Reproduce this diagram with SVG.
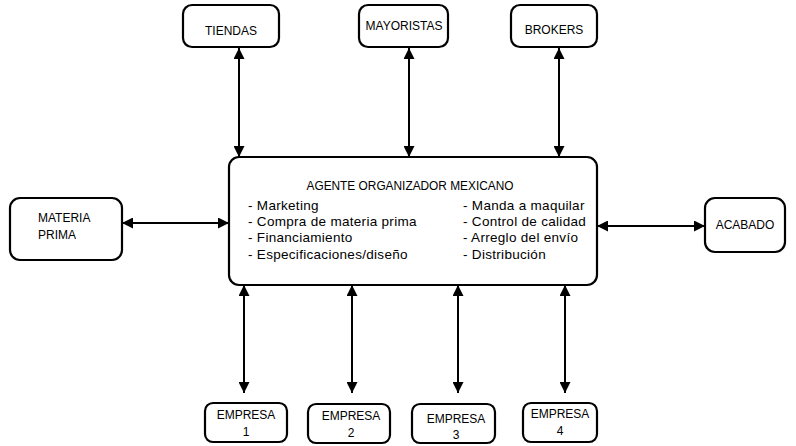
<svg xmlns="http://www.w3.org/2000/svg" width="796" height="446" viewBox="0 0 796 446">
<style>
.box{fill:#fff;stroke:#000;stroke-width:2.2}
.t{font-family:"Liberation Sans",Arial,sans-serif;font-size:12px;fill:#000}
.l{font-size:13.5px;letter-spacing:0.3px}
.c{text-anchor:middle}
.ln{stroke:#000;stroke-width:2;fill:none;marker-start:url(#ah);marker-end:url(#ah)}
</style>
<defs>
<marker id="ah" viewBox="0 0 10 10" refX="10" refY="5" markerWidth="6" markerHeight="5.5" orient="auto-start-reverse" markerUnits="strokeWidth">
<path d="M0,0 L10,5 L0,10 z" fill="#000"/>
</marker>
</defs>
<rect width="796" height="446" fill="#fff"/>
<g id="connectors">
<line class="ln" x1="239" y1="48" x2="239" y2="157"/>
<line class="ln" x1="409" y1="48" x2="409" y2="157"/>
<line class="ln" x1="559" y1="48" x2="559" y2="157"/>
<line class="ln" x1="122" y1="223" x2="229" y2="223"/>
<line class="ln" x1="597" y1="226" x2="705" y2="226"/>
<line class="ln" x1="244" y1="285" x2="244" y2="393"/>
<line class="ln" x1="352" y1="285" x2="352" y2="393"/>
<line class="ln" x1="458" y1="285" x2="458" y2="393"/>
<line class="ln" x1="565" y1="285" x2="565" y2="393"/>
</g>
<g id="tiendas">
<rect class="box" x="183" y="5" width="96" height="42" rx="9"/>
<text class="t c" x="231" y="35">TIENDAS</text>
</g>
<g id="mayoristas">
<rect class="box" x="359" y="5" width="89" height="42" rx="9"/>
<text class="t c" x="404" y="30">MAYORISTAS</text>
</g>
<g id="brokers">
<rect class="box" x="511" y="5" width="86" height="42" rx="9"/>
<text class="t c" x="554" y="34">BROKERS</text>
</g>
<g id="materia-prima">
<rect class="box" x="10" y="198" width="112" height="62" rx="10"/>
<text class="t" x="38" y="222">MATERIA</text>
<text class="t" x="38" y="239">PRIMA</text>
</g>
<g id="acabado">
<rect class="box" x="705" y="198" width="80" height="54" rx="10"/>
<text class="t c" x="745" y="229">ACABADO</text>
</g>
<g id="agente">
<rect class="box" x="229" y="157" width="368" height="128" rx="10"/>
<text class="t c" x="410" y="190" textLength="207" lengthAdjust="spacingAndGlyphs">AGENTE ORGANIZADOR MEXICANO</text>
<text class="t l" x="248" y="210">- Marketing</text>
<text class="t l" x="248" y="226">- Compra de materia prima</text>
<text class="t l" x="248" y="242">- Financiamiento</text>
<text class="t l" x="248" y="259">- Especificaciones/diseño</text>
<text class="t l" x="463" y="210">- Manda a maquilar</text>
<text class="t l" x="463" y="226">- Control de calidad</text>
<text class="t l" x="463" y="242">- Arreglo del envío</text>
<text class="t l" x="463" y="259">- Distribución</text>
</g>
<g id="empresa1">
<rect class="box" x="205" y="403" width="82" height="39" rx="8"/>
<text class="t c" x="246" y="419">EMPRESA</text>
<text class="t c" x="246" y="436">1</text>
</g>
<g id="empresa2">
<rect class="box" x="308" y="404" width="82" height="39" rx="8"/>
<text class="t c" x="351" y="420">EMPRESA</text>
<text class="t c" x="351" y="437">2</text>
</g>
<g id="empresa3">
<rect class="box" x="412" y="404" width="83" height="39" rx="8"/>
<text class="t c" x="456" y="423">EMPRESA</text>
<text class="t c" x="456" y="439">3</text>
</g>
<g id="empresa4">
<rect class="box" x="523" y="403" width="74" height="39" rx="8"/>
<text class="t c" x="560" y="418">EMPRESA</text>
<text class="t c" x="560" y="435">4</text>
</g>
</svg>
